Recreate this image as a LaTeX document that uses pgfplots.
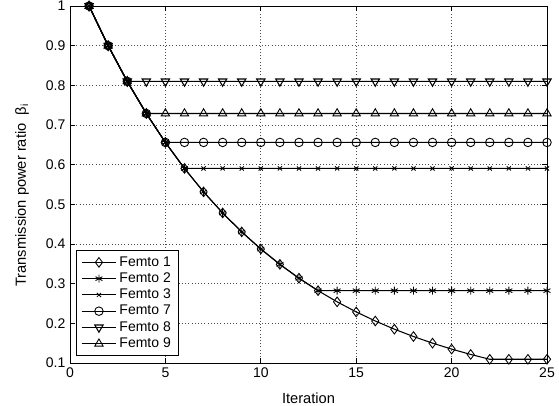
\documentclass[border=0pt]{standalone}
\usepackage{fontspec}
\setmainfont{Liberation Sans}
\usepackage{pgfplots}
\pgfplotsset{compat=1.18}
\begin{document}
\begin{tikzpicture}[font=\fontsize{10.5}{12.6}\selectfont]
\begin{axis}[
  scale only axis,
  width=357.75pt, height=267.75pt,
  xmin=0, xmax=25, ymin=0.1, ymax=1,
  xtick={0,5,10,15,20,25},
  ytick={0.1,0.2,0.3,0.4,0.5,0.6,0.7,0.8,0.9,1},
  yticklabels={0.1,0.2,0.3,0.4,0.5,0.6,0.7,0.8,0.9,1},
  /pgf/number format/assume math mode=true,
  tick align=inside,
  major tick length=4pt,
  tick style={black, line width=0.5pt},
  axis line style={black, line width=0.6pt},
  grid=major,
  major grid style={dotted, black!70, line width=0.5pt},
  xlabel={Iteration},
  ylabel={Transmission power ratio\ \ β\textsubscript{i}},
  xlabel style={at={(axis description cs:0.5,0)}, anchor=base, yshift=-30.3pt, font=\fontsize{11}{13}\selectfont},
  ylabel style={at={(axis description cs:-0.1006,0.47)}, anchor=center, font=\fontsize{11}{13}\selectfont},
  every axis plot/.append style={black, line width=0.8pt, mark options={solid, black, line width=0.65pt, fill=none}},
  legend style={at={(0.0126,0.0196)}, anchor=south west, draw=black, line width=0.6pt,
    font=\fontsize{10.5}{12.6}\selectfont, cells={anchor=west}, row sep=-0.6pt, inner xsep=3.5pt, inner ysep=2.5pt},
  legend image code/.code={\draw[mark repeat=2,mark phase=2] plot coordinates {(0pt,0pt) (13pt,0pt) (26pt,0pt)};},
]
\addplot[mark=diamond, mark size=3.6pt] coordinates {
(1,1) (2,0.9) (3,0.81) (4,0.729) (5,0.6561) (6,0.5905) (7,0.5314) (8,0.4783)
(9,0.4305) (10,0.3874) (11,0.3487) (12,0.3138) (13,0.2824) (14,0.2542) (15,0.2288)
(16,0.2059) (17,0.1853) (18,0.1668) (19,0.1501) (20,0.1351) (21,0.1216) (22,0.1094)
(23,0.1094) (24,0.1094) (25,0.1094)};
\addlegendentry{Femto 1}
\addplot[mark=asterisk, mark size=3pt] coordinates {
(1,1) (2,0.9) (3,0.81) (4,0.729) (5,0.6561) (6,0.5905) (7,0.5314) (8,0.4783)
(9,0.4305) (10,0.3874) (11,0.3487) (12,0.3138) (13,0.2824) (14,0.2824) (15,0.2824)
(16,0.2824) (17,0.2824) (18,0.2824) (19,0.2824) (20,0.2824) (21,0.2824) (22,0.2824)
(23,0.2824) (24,0.2824) (25,0.2824)};
\addlegendentry{Femto 2}
\addplot[mark=x, mark size=2.2pt] coordinates {
(1,1) (2,0.9) (3,0.81) (4,0.729) (5,0.6561) (6,0.5905) (7,0.5905) (8,0.5905)
(9,0.5905) (10,0.5905) (11,0.5905) (12,0.5905) (13,0.5905) (14,0.5905) (15,0.5905)
(16,0.5905) (17,0.5905) (18,0.5905) (19,0.5905) (20,0.5905) (21,0.5905) (22,0.5905)
(23,0.5905) (24,0.5905) (25,0.5905)};
\addlegendentry{Femto 3}
\addplot[mark=o, mark size=3.2pt] coordinates {
(1,1) (2,0.9) (3,0.81) (4,0.729) (5,0.6561) (6,0.6561) (7,0.6561) (8,0.6561)
(9,0.6561) (10,0.6561) (11,0.6561) (12,0.6561) (13,0.6561) (14,0.6561) (15,0.6561)
(16,0.6561) (17,0.6561) (18,0.6561) (19,0.6561) (20,0.6561) (21,0.6561) (22,0.6561)
(23,0.6561) (24,0.6561) (25,0.6561)};
\addlegendentry{Femto 7}
\addplot[mark=triangle, mark size=3.6pt, mark options={rotate=180}] coordinates {
(1,1) (2,0.9) (3,0.81) (4,0.81) (5,0.81) (6,0.81) (7,0.81) (8,0.81)
(9,0.81) (10,0.81) (11,0.81) (12,0.81) (13,0.81) (14,0.81) (15,0.81)
(16,0.81) (17,0.81) (18,0.81) (19,0.81) (20,0.81) (21,0.81) (22,0.81)
(23,0.81) (24,0.81) (25,0.81)};
\addlegendentry{Femto 8}
\addplot[mark=triangle, mark size=3.6pt] coordinates {
(1,1) (2,0.9) (3,0.81) (4,0.729) (5,0.729) (6,0.729) (7,0.729) (8,0.729)
(9,0.729) (10,0.729) (11,0.729) (12,0.729) (13,0.729) (14,0.729) (15,0.729)
(16,0.729) (17,0.729) (18,0.729) (19,0.729) (20,0.729) (21,0.729) (22,0.729)
(23,0.729) (24,0.729) (25,0.729)};
\addlegendentry{Femto 9}
\end{axis}
\pgfresetboundingbox
\useasboundingbox (current axis.south west) ++(-52.5pt,-31.5pt) rectangle ++(419.25pt,303.75pt);
\end{tikzpicture}
\end{document}
